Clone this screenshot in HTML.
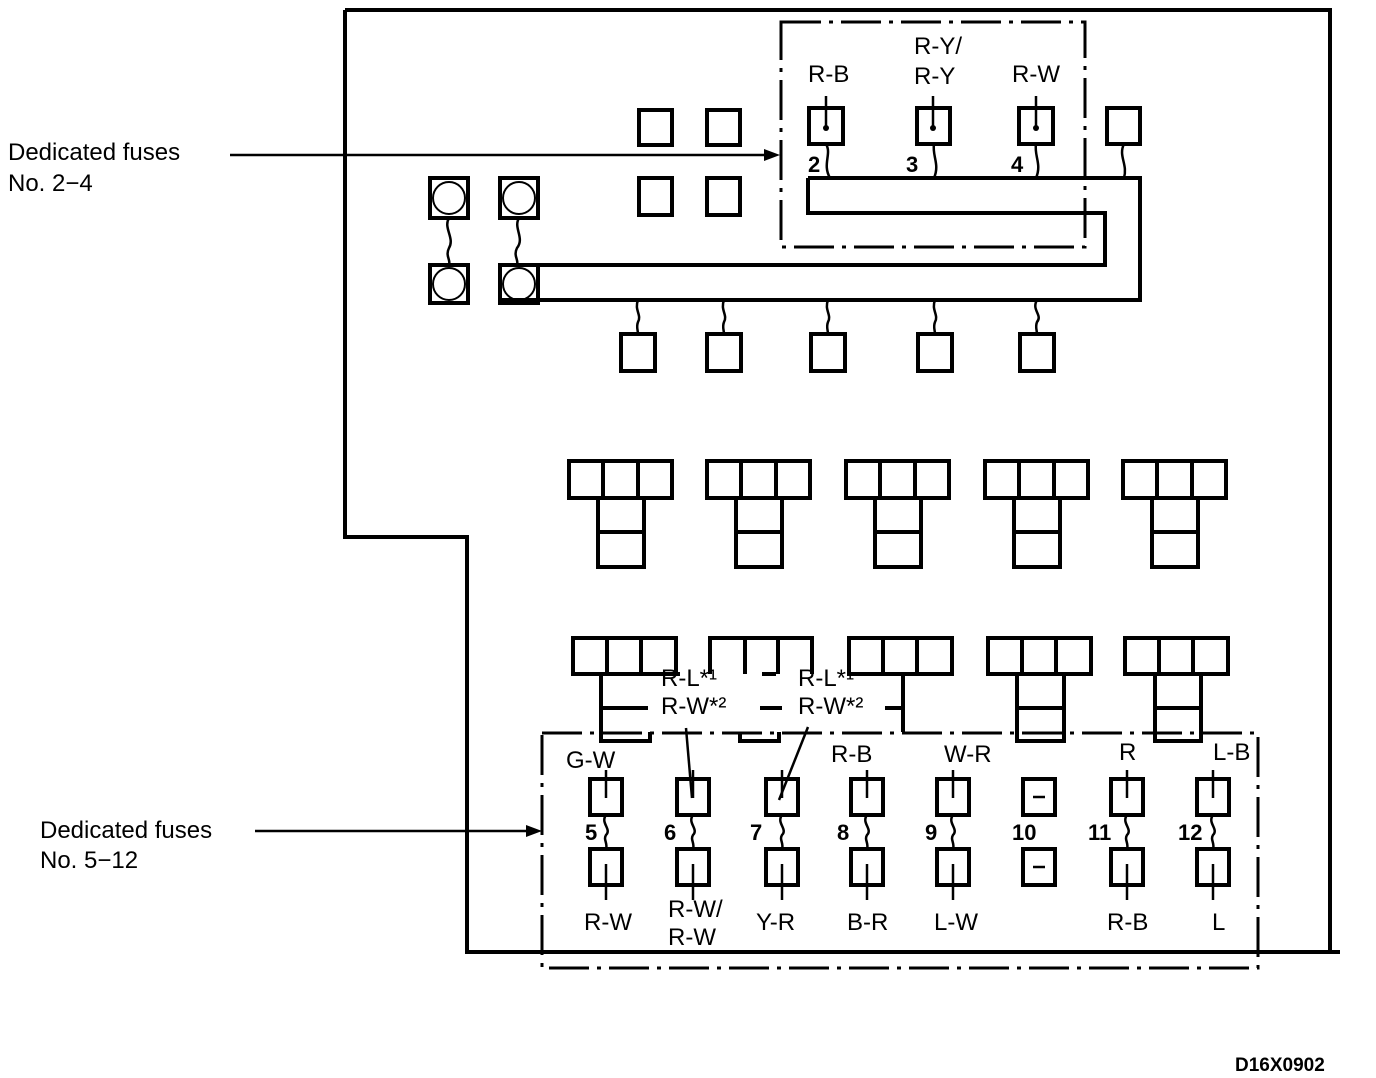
<!DOCTYPE html>
<html><head><meta charset="utf-8"><style>
html,body{margin:0;padding:0;background:#fff;width:1376px;height:1078px;overflow:hidden}
svg{display:block}
text{font-family:"Liberation Sans",Arial,sans-serif;fill:#000}
</style></head><body>
<svg width="1376" height="1078" viewBox="0 0 1376 1078" xmlns="http://www.w3.org/2000/svg">
<g fill="none" stroke="#000" stroke-width="4">
<!-- body outline -->
<polyline points="345,10 1330,10 1330,952 467,952 467,537 345,537 345,10"/>
<line x1="467" y1="952" x2="1340" y2="952"/>
<!-- top dashed box -->
<rect x="781" y="22" width="304" height="225" stroke-width="3" stroke-dasharray="40,8,4,8"/>
<!-- small squares -->
<rect x="639" y="110" width="33" height="35"/><rect x="707" y="110" width="33" height="35"/>
<rect x="639" y="178" width="33" height="37"/><rect x="707" y="178" width="33" height="37"/>
<!-- fuses 2-4 -->
<rect x="809" y="108" width="34" height="36"/><rect x="917" y="108" width="33" height="36"/><rect x="1019" y="108" width="34" height="36"/><rect x="1107" y="108" width="33" height="36"/>
<!-- bus -->
<polyline points="808,178 1140,178 1140,300 500,300"/>
<polyline points="808,178 808,213 1105,213 1105,265 520,265"/>
<!-- circle terminals -->
<rect x="430" y="178" width="38" height="40"/><rect x="500" y="178" width="38" height="40"/>
<rect x="430" y="265" width="38" height="38"/><rect x="500" y="265" width="38" height="38"/>
<circle cx="449" cy="198" r="16" stroke-width="2"/><circle cx="519" cy="198" r="16" stroke-width="2"/>
<circle cx="449" cy="284" r="16" stroke-width="2"/><circle cx="519" cy="284" r="16" stroke-width="2"/>
<!-- bottom squares -->
<rect x="621" y="334" width="34" height="37"/><rect x="707" y="334" width="34" height="37"/><rect x="811" y="334" width="34" height="37"/><rect x="918" y="334" width="34" height="37"/><rect x="1020" y="334" width="34" height="37"/>
</g>
<!-- wires -->
<g fill="none" stroke="#000" stroke-width="2.5">
<path d="M449,218 c-6,10 6,20 0,30 c-4,8 2,12 0,17"/>
<path d="M519,218 c-6,10 6,20 -2,30 c-4,8 2,12 0,17"/>
<path d="M638,300 c-4,10 4,15 0,22 c-2,5 0,8 0,12"/>
<path d="M724,300 c-4,10 4,15 0,22 c-2,5 0,8 0,12"/>
<path d="M828,300 c-4,10 4,15 0,22 c-2,5 0,8 0,12"/>
<path d="M935,300 c-4,10 4,15 0,22 c-2,5 0,8 0,12"/>
<path d="M1037,300 c-6,10 6,15 0,22 c-2,5 0,8 0,12"/>
<path d="M826,144 c6,10 -4,20 4,34"/>
<path d="M934,144 c-2,12 6,20 0,34"/>
<path d="M1036,144 c-2,12 6,20 0,34"/>
<path d="M1124,144 c-6,12 4,20 0,34"/>
<line x1="826" y1="96" x2="826" y2="128"/><line x1="933" y1="96" x2="933" y2="128"/><line x1="1036" y1="96" x2="1036" y2="128"/>
</g>
<g fill="#000"><circle cx="826" cy="128" r="3"/><circle cx="933" cy="128" r="3"/><circle cx="1036" cy="128" r="3"/></g>
<!-- T connectors row1 -->
<g fill="none" stroke="#000" stroke-width="4">
<g id="t1"><rect x="569" y="461" width="103" height="37"/><line x1="603" y1="461" x2="603" y2="498"/><line x1="638" y1="461" x2="638" y2="498"/><rect x="598" y="498" width="46" height="69"/><line x1="598" y1="532" x2="644" y2="532"/></g>
<use href="#t1" x="138"/><use href="#t1" x="277"/><use href="#t1" x="416"/><use href="#t1" x="554"/>
<!-- row2 -->
<rect x="573" y="638" width="103" height="36"/><line x1="607" y1="638" x2="607" y2="674"/><line x1="641" y1="638" x2="641" y2="674"/>
<polyline points="710,674 710,638 812,638 812,674"/><line x1="745" y1="638" x2="745" y2="674"/><line x1="778" y1="638" x2="778" y2="674"/>
<rect x="849" y="638" width="103" height="36"/><line x1="883" y1="638" x2="883" y2="674"/><line x1="917" y1="638" x2="917" y2="674"/>
<rect x="988" y="638" width="103" height="36"/><line x1="1022" y1="638" x2="1022" y2="674"/><line x1="1056" y1="638" x2="1056" y2="674"/>
<rect x="1125" y="638" width="103" height="36"/><line x1="1159" y1="638" x2="1159" y2="674"/><line x1="1193" y1="638" x2="1193" y2="674"/>
<polyline points="1017,674 1017,741 1064,741 1064,674"/><line x1="1017" y1="708" x2="1064" y2="708"/>
<polyline points="1155,674 1155,741 1201,741 1201,674"/><line x1="1155" y1="708" x2="1201" y2="708"/>
<polyline points="601,674 601,741 650,741 650,732"/><line x1="601" y1="708" x2="645" y2="708"/>
<polyline points="640,674 680,674"/><line x1="762" y1="674" x2="776" y2="674"/>
<line x1="628" y1="708" x2="648" y2="708"/><line x1="760" y1="708" x2="782" y2="708"/><line x1="885" y1="708" x2="903" y2="708"/>
<polyline points="880,674 903,674 903,732"/>
<polyline points="740,732 740,741 779,741 779,732"/>
<!-- bottom dashed box -->
<rect x="542" y="733" width="716" height="235" stroke-width="3" stroke-dasharray="40,8,4,8"/>
<!-- fuses 5-12 -->
<g id="f"><rect x="590" y="779" width="32" height="36"/><rect x="590" y="849" width="32" height="36"/></g>
<use href="#f" x="87"/><use href="#f" x="176"/><use href="#f" x="261"/><use href="#f" x="347"/><use href="#f" x="433"/><use href="#f" x="521"/><use href="#f" x="607"/>
</g>
<g fill="none" stroke="#000" stroke-width="2.5">
<g id="w"><line x1="606" y1="770" x2="606" y2="798"/><path d="M606,815 c-6,8 6,14 0,20 c-3,5 2,8 0,14"/><line x1="606" y1="864" x2="606" y2="900"/></g>
<use href="#w" x="87"/><use href="#w" x="176"/><use href="#w" x="261"/><use href="#w" x="347"/><use href="#w" x="521"/><use href="#w" x="607"/>
<line x1="686" y1="728" x2="692" y2="798"/>
<line x1="808" y1="727" x2="779" y2="800"/>
<line x1="1033" y1="797" x2="1045" y2="797"/><line x1="1033" y1="867" x2="1045" y2="867"/>
<line x1="230" y1="155" x2="770" y2="155"/>
<line x1="255" y1="831" x2="532" y2="831"/>
</g>
<polygon points="780,155 764,149 764,161" fill="#000"/>
<polygon points="542,831 526,825 526,837" fill="#000"/>
<g font-size="24">
<text x="8" y="160">Dedicated fuses</text><text x="8" y="191">No. 2−4</text>
<text x="40" y="838">Dedicated fuses</text><text x="40" y="868">No. 5−12</text>
<text x="808" y="82">R-B</text><text x="914" y="54">R-Y/</text><text x="914" y="84">R-Y</text><text x="1012" y="82">R-W</text>
<text x="661" y="686">R-L*¹</text><text x="661" y="714">R-W*²</text>
<text x="798" y="686">R-L*¹</text><text x="798" y="714">R-W*²</text>
<text x="566" y="768">G-W</text><text x="831" y="762">R-B</text><text x="944" y="762">W-R</text><text x="1119" y="760">R</text><text x="1213" y="760">L-B</text>
<text x="584" y="930">R-W</text><text x="668" y="917">R-W/</text><text x="668" y="945">R-W</text><text x="756" y="930">Y-R</text><text x="847" y="930">B-R</text><text x="934" y="930">L-W</text><text x="1107" y="930">R-B</text><text x="1212" y="930">L</text>
</g>
<g font-size="22" font-weight="bold">
<text x="808" y="172">2</text><text x="906" y="172">3</text><text x="1011" y="172">4</text>
<text x="585" y="840">5</text><text x="664" y="840">6</text><text x="750" y="840">7</text><text x="837" y="840">8</text><text x="925" y="840">9</text><text x="1012" y="840">10</text><text x="1088" y="840">11</text><text x="1178" y="840">12</text>
</g>
<text x="1235" y="1071" font-size="19" font-weight="bold">D16X0902</text>
</svg>
</body></html>
